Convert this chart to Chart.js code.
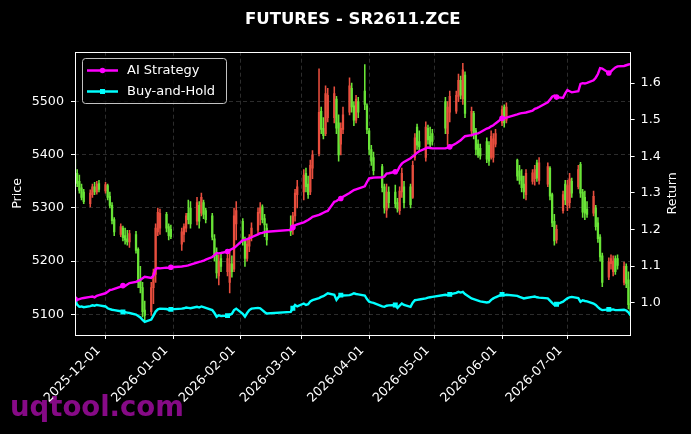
<!DOCTYPE html>
<html><head><meta charset="utf-8">
<script src="https://cdn.jsdelivr.net/npm/chart.js@4/dist/chart.umd.min.js"></script>
<style>
html,body{margin:0;padding:0;background:#000;}
#wrap{position:relative;width:691px;height:434px;}
</style></head><body>
<div id="wrap"><canvas id="c"></canvas></div>
<script>
const dates = [
'2025-11-17','2025-11-18','2025-11-19','2025-11-20','2025-11-21','2025-11-24','2025-11-25','2025-11-26','2025-11-27','2025-11-28',
'2025-12-01','2025-12-02','2025-12-03','2025-12-04','2025-12-05','2025-12-08','2025-12-09','2025-12-10','2025-12-11','2025-12-12',
'2025-12-15','2025-12-16','2025-12-17','2025-12-18','2025-12-19','2025-12-22','2025-12-23','2025-12-24','2025-12-25','2025-12-26',
'2025-12-29','2025-12-30','2025-12-31','2026-01-05','2026-01-06','2026-01-07','2026-01-08','2026-01-09','2026-01-12','2026-01-13',
'2026-01-14','2026-01-15','2026-01-16','2026-01-19','2026-01-20','2026-01-21','2026-01-22','2026-01-23','2026-01-26','2026-01-27',
'2026-01-28','2026-01-29','2026-01-30','2026-02-02','2026-02-03','2026-02-04','2026-02-05','2026-02-06','2026-02-09','2026-02-10',
'2026-02-11','2026-02-12','2026-02-13','2026-02-24','2026-02-25','2026-02-26','2026-02-27','2026-03-02','2026-03-03','2026-03-04',
'2026-03-05','2026-03-06','2026-03-09','2026-03-10','2026-03-11','2026-03-12','2026-03-13','2026-03-16','2026-03-17','2026-03-18',
'2026-03-19','2026-03-20','2026-03-23','2026-03-24','2026-03-25','2026-03-26','2026-03-27','2026-03-30','2026-03-31','2026-04-01',
'2026-04-02','2026-04-03','2026-04-07','2026-04-08','2026-04-09','2026-04-10','2026-04-13','2026-04-14','2026-04-15','2026-04-16',
'2026-04-17','2026-04-20','2026-04-21','2026-04-22','2026-04-23','2026-04-24','2026-04-27','2026-04-28','2026-04-29','2026-04-30',
'2026-05-06','2026-05-07','2026-05-08','2026-05-11','2026-05-12','2026-05-13','2026-05-14','2026-05-15','2026-05-18','2026-05-19',
'2026-05-20','2026-05-21','2026-05-22','2026-05-25','2026-05-26','2026-05-27','2026-05-28','2026-05-29','2026-06-01','2026-06-02',
'2026-06-03','2026-06-08','2026-06-09','2026-06-10','2026-06-11','2026-06-12','2026-06-15','2026-06-16','2026-06-17','2026-06-18',
'2026-06-22','2026-06-23','2026-06-24','2026-06-25','2026-06-26','2026-06-29','2026-06-30','2026-07-01','2026-07-02','2026-07-03',
'2026-07-06','2026-07-07','2026-07-08','2026-07-09','2026-07-10','2026-07-13','2026-07-14','2026-07-15','2026-07-16','2026-07-17',
'2026-07-20','2026-07-21','2026-07-22','2026-07-23','2026-07-24','2026-07-27','2026-07-28','2026-07-29','2026-07-30'];

const open = [5392,5365,5350,5338,5330,5308,5325,5340,5330,5346,
5332,5342,5322,5305,5278,5250,5262,5248,5242,5236,
5250,5222,5165,5150,5108,5105,5150,5175,5255,5262,
5288,5265,5260,5232,5250,5262,5290,5300,5275,5305,
5290,5310,5295,5285,5242,5212,5172,5205,5180,5160,
5195,5185,5270,5275,5240,5205,5228,5245,5258,5290,
5302,5280,5262,5262,5258,5285,5325,5330,5365,5345,
5330,5375,5402,5482,5450,5440,5470,5470,5505,5460,
5420,5448,5480,5525,5492,5465,5500,5520,5492,5445,
5410,5395,5378,5340,5296,5330,5330,5310,5295,5330,
5340,5340,5320,5395,5452,5425,5395,5450,5435,5440,
5500,5440,5480,5482,5510,5540,5505,5550,5445,5478,
5445,5420,5412,5425,5418,5395,5395,5420,5460,5490,
5465,5390,5370,5360,5345,5325,5350,5355,5385,5352,
5345,5375,5325,5275,5240,5295,5345,5305,5310,5350,
5340,5382,5330,5320,5298,5290,5300,5272,5245,5210,
5170,5195,5180,5205,5205,5160,5190,5165,5120];

const high = [5398,5372,5362,5345,5335,5334,5345,5348,5350,5352,
5348,5345,5330,5310,5282,5270,5266,5262,5258,5258,
5256,5225,5190,5160,5125,5160,5185,5270,5300,5298,
5292,5270,5268,5262,5270,5290,5315,5312,5320,5312,
5328,5315,5300,5290,5250,5225,5212,5215,5215,5220,
5210,5300,5312,5280,5245,5240,5250,5272,5300,5310,
5306,5288,5270,5285,5292,5335,5352,5372,5375,5360,
5390,5408,5562,5490,5470,5530,5525,5528,5510,5475,
5460,5490,5545,5535,5500,5512,5508,5570,5496,5450,
5418,5405,5382,5345,5345,5340,5343,5318,5340,5375,
5350,5345,5388,5440,5458,5445,5462,5456,5452,5448,
5508,5500,5520,5520,5552,5548,5572,5556,5490,5482,
5450,5428,5420,5432,5425,5445,5440,5448,5492,5494,
5498,5392,5380,5372,5360,5372,5372,5380,5390,5395,
5385,5378,5328,5288,5268,5332,5352,5352,5365,5356,
5380,5386,5335,5332,5312,5332,5305,5282,5250,5215,
5206,5212,5210,5210,5212,5198,5195,5180,5150];

const low = [5355,5340,5328,5315,5308,5302,5320,5325,5326,5330,
5328,5315,5300,5270,5248,5246,5238,5232,5230,5226,
5215,5150,5140,5095,5088,5098,5120,5160,5248,5250,
5255,5240,5242,5220,5236,5255,5270,5262,5268,5262,
5285,5280,5272,5240,5200,5168,5155,5180,5172,5140,
5170,5180,5240,5230,5190,5200,5218,5238,5250,5268,
5272,5246,5230,5248,5250,5275,5300,5315,5330,5318,
5325,5355,5398,5440,5430,5436,5462,5460,5440,5388,
5400,5440,5475,5480,5455,5460,5470,5485,5440,5400,
5380,5362,5330,5290,5282,5300,5300,5292,5288,5320,
5300,5300,5318,5390,5410,5408,5388,5420,5412,5418,
5440,5418,5462,5478,5500,5505,5495,5470,5435,5430,
5400,5395,5392,5385,5380,5392,5386,5415,5455,5452,
5460,5352,5345,5330,5318,5315,5345,5343,5350,5345,
5340,5315,5265,5230,5234,5290,5306,5295,5300,5320,
5336,5320,5282,5278,5282,5285,5258,5235,5200,5152,
5165,5185,5172,5175,5185,5155,5150,5110,5092];

const close = [5362,5346,5333,5320,5312,5328,5340,5330,5345,5335,
5344,5320,5305,5276,5255,5265,5244,5240,5236,5252,
5220,5160,5150,5105,5098,5150,5178,5262,5292,5290,
5262,5248,5246,5255,5265,5285,5278,5270,5310,5275,
5320,5288,5278,5245,5210,5178,5200,5190,5205,5195,
5180,5285,5295,5238,5205,5232,5245,5262,5292,5300,
5278,5268,5240,5255,5285,5328,5340,5362,5340,5325,
5380,5400,5480,5448,5436,5515,5512,5515,5450,5400,
5450,5475,5530,5490,5465,5505,5480,5495,5448,5410,
5388,5370,5338,5300,5330,5310,5308,5298,5332,5365,
5310,5306,5380,5432,5418,5415,5452,5428,5420,5425,
5450,5490,5510,5512,5540,5512,5560,5478,5482,5440,
5410,5400,5398,5392,5388,5435,5430,5440,5485,5460,
5490,5360,5352,5338,5330,5365,5366,5372,5356,5385,
5378,5322,5272,5238,5260,5325,5315,5342,5355,5328,
5372,5328,5292,5290,5288,5322,5265,5242,5208,5160,
5198,5205,5200,5180,5192,5190,5158,5118,5098];

const aiStrategy = [1.010,1.008,1.010,1.012,1.013,1.016,1.017,1.015,1.019,1.021,
1.026,1.030,1.035,1.036,1.038,1.044,1.047,1.046,1.050,1.054,
1.057,1.060,1.063,1.067,1.071,1.068,1.074,1.092,1.095,1.094,
1.096,1.095,1.097,1.099,1.100,1.101,1.102,1.104,1.110,1.112,
1.113,1.115,1.118,1.125,1.130,1.136,1.135,1.136,1.140,1.144,
1.147,1.150,1.155,1.171,1.172,1.174,1.176,1.179,1.187,1.190,
1.191,1.193,1.194,1.199,1.206,1.212,1.214,1.220,1.223,1.226,
1.230,1.235,1.240,1.243,1.246,1.249,1.251,1.276,1.278,1.282,
1.285,1.290,1.300,1.304,1.308,1.310,1.312,1.318,1.330,1.340,
1.341,1.342,1.343,1.345,1.353,1.354,1.358,1.360,1.372,1.380,
1.385,1.395,1.400,1.404,1.410,1.414,1.422,1.424,1.423,1.422,
1.422,1.424,1.426,1.436,1.440,1.444,1.450,1.455,1.458,1.460,
1.462,1.463,1.466,1.476,1.478,1.482,1.485,1.490,1.504,1.505,
1.506,1.515,1.517,1.518,1.519,1.520,1.525,1.530,1.532,1.535,
1.548,1.555,1.563,1.566,1.562,1.560,1.572,1.581,1.578,1.575,
1.578,1.598,1.600,1.599,1.601,1.608,1.615,1.625,1.641,1.640,
1.628,1.632,1.638,1.643,1.646,1.647,1.649,1.651,1.652];

const buyHold = [1.003,0.995,0.989,0.990,0.988,0.991,0.993,0.992,0.994,0.993,
0.990,0.985,0.983,0.981,0.980,0.977,0.975,0.974,0.973,0.972,
0.968,0.964,0.960,0.953,0.948,0.954,0.965,0.976,0.982,0.984,
0.983,0.981,0.982,0.984,0.985,0.987,0.986,0.985,0.989,0.987,
0.990,0.988,0.986,0.980,0.972,0.962,0.966,0.964,0.965,0.967,
0.970,0.980,0.984,0.970,0.962,0.972,0.980,0.984,0.986,0.985,
0.980,0.975,0.971,0.975,0.985,0.994,0.990,0.998,0.994,0.996,
1.004,1.007,1.013,1.016,1.018,1.022,1.026,1.022,1.008,1.016,
1.021,1.020,1.021,1.023,1.026,1.024,1.023,1.020,1.010,1.003,
1.001,1.000,0.990,0.989,0.992,0.993,0.994,0.986,0.992,0.998,
0.994,0.989,1.000,1.007,1.008,1.009,1.012,1.014,1.015,1.016,
1.022,1.021,1.023,1.027,1.030,1.028,1.030,1.024,1.012,1.010,
1.008,1.006,1.004,1.001,1.002,1.008,1.012,1.015,1.023,1.021,
1.022,1.019,1.016,1.014,1.012,1.013,1.016,1.017,1.015,1.014,
1.012,1.006,1.000,0.994,0.996,1.003,1.008,1.012,1.015,1.016,
1.013,1.003,1.007,1.005,1.004,0.998,0.994,0.988,0.983,0.980,
0.982,0.981,0.982,0.980,0.980,0.981,0.979,0.974,0.966];

const priceTicks = [5100, 5200, 5300, 5400, 5500];
const returnTicks = [1.0, 1.1, 1.2, 1.3, 1.4, 1.5, 1.6];
const dateTicks = ['2025-12-01','2026-01-01','2026-02-01','2026-03-01','2026-04-01','2026-05-01','2026-06-01','2026-07-01'];

const BASE = Date.UTC(2025, 11, 1);
function dayNum(s){ const p = s.split('-').map(Number); return (Date.UTC(p[0], p[1]-1, p[2]) - BASE) / 86400000; }
const xs = dates.map(dayNum);
const UP = 'rgb(232,78,62)', DOWN = 'rgb(105,228,55)';
const candleColors = open.map((o, i) => close[i] >= o ? UP : DOWN);
const FONT = "'DejaVu Sans', sans-serif";
const MARK_EVERY = 16;

const decor = {
  id: 'decor',
  beforeDraw(chart) {
    const ctx = chart.ctx;
    ctx.save();
    ctx.font = 'bold 27.5px ' + FONT;
    ctx.fillStyle = '#860a86';
    ctx.textBaseline = 'alphabetic';
    ctx.textAlign = 'left';
    ctx.fillText('uqtool.com', 10, 416);
    ctx.restore();
  },
  afterDraw(chart) {
    const ctx = chart.ctx;
    const a = chart.chartArea;
    ctx.save();
    ctx.strokeStyle = '#ffffff';
    ctx.lineWidth = 1;
    ctx.strokeRect(Math.round(a.left) + 0.5, Math.round(a.top) + 0.5, Math.round(a.right - a.left) - 1, Math.round(a.bottom - a.top));
    ctx.save();
    ctx.translate(673, (a.top + a.bottom) / 2);
    ctx.rotate(-Math.PI / 2);
    ctx.font = '12.7px ' + FONT;
    ctx.fillStyle = '#ffffff';
    ctx.textAlign = 'center';
    ctx.textBaseline = 'middle';
    ctx.fillText('Return', 0, 0);
    ctx.restore();
    const bx = 82.5, by = 58.5, bw = 144, bh = 45;
    ctx.beginPath();
    if (ctx.roundRect) ctx.roundRect(bx, by, bw, bh, 3); else ctx.rect(bx, by, bw, bh);
    ctx.fillStyle = 'rgba(0,0,0,0.8)';
    ctx.fill();
    ctx.strokeStyle = 'rgba(215,215,215,0.9)';
    ctx.lineWidth = 1;
    ctx.stroke();
    const items = chart.data.datasets.filter(d => d.type === 'line');
    items.forEach((ds, k) => {
      const y = 70.5 + k * 21;
      ctx.strokeStyle = ds.borderColor;
      ctx.lineWidth = 2.5;
      ctx.beginPath(); ctx.moveTo(87, y); ctx.lineTo(118, y); ctx.stroke();
      ctx.fillStyle = ds.borderColor;
      if (ds.pointStyle === 'rect') { ctx.fillRect(100, y - 2.5, 5, 5); }
      else { ctx.beginPath(); ctx.arc(102.5, y, 2.8, 0, Math.PI * 2); ctx.fill(); }
      ctx.fillStyle = '#ffffff';
      ctx.font = '13px ' + FONT;
      ctx.textAlign = 'left';
      ctx.textBaseline = 'middle';
      ctx.fillText(ds.label, 127, y + 0.5);
    });
    ctx.restore();
  }
};

const gridCol = 'rgba(255,255,255,0.25)';
new Chart(document.getElementById('c'), {
  type: 'bar',
  data: {
    datasets: [
      {
        type: 'line', label: 'AI Strategy', yAxisID: 'y1', xAxisID: 'x', order: 0,
        data: xs.map((x, i) => ({x: x, y: aiStrategy[i]})),
        borderColor: '#ff00ff', backgroundColor: '#ff00ff', borderWidth: 2.4,
        pointStyle: 'circle', pointRadius: c => c.dataIndex % MARK_EVERY === 0 ? 2.8 : 0,
        pointBorderWidth: 0, pointBackgroundColor: '#ff00ff', tension: 0
      },
      {
        type: 'line', label: 'Buy-and-Hold', yAxisID: 'y1', xAxisID: 'x', order: 0,
        data: xs.map((x, i) => ({x: x, y: buyHold[i]})),
        borderColor: '#00ffff', backgroundColor: '#00ffff', borderWidth: 2.4,
        pointStyle: 'rect', pointRadius: c => c.dataIndex % MARK_EVERY === 0 ? 3.5 : 0,
        pointBorderWidth: 0, pointBackgroundColor: '#00ffff', tension: 0
      },
      {
        label: 'wick', yAxisID: 'y', xAxisID: 'x', order: 2, grouped: false,
        data: xs.map((x, i) => ({x: x, y: [low[i], high[i]]})),
        backgroundColor: candleColors, barThickness: 0.9, borderWidth: 0
      },
      {
        label: 'body', yAxisID: 'y', xAxisID: 'x', order: 1, grouped: false,
        data: xs.map((x, i) => ({x: x, y: [open[i], close[i]]})),
        backgroundColor: candleColors, barThickness: 1.6, borderWidth: 0
      }
    ]
  },
  options: {
    responsive: true, maintainAspectRatio: false, animation: false,
    layout: { padding: 0 },
    plugins: {
      legend: { display: false },
      tooltip: { enabled: false },
      title: {
        display: true, text: 'FUTURES - SR2611.ZCE', color: '#ffffff', fullSize: false,
        font: { family: FONT, size: 16.5, weight: 'bold' },
        padding: { top: 10, bottom: 21.9 }
      }
    },
    scales: {
      x: {
        type: 'linear', position: 'bottom', offset: false,
        min: xs[0], max: xs[xs.length - 1],
        afterBuildTicks: s => { s.ticks = dateTicks.map(d => ({value: dayNum(d)})); },
        afterFit: s => { s.height = 99; },
        ticks: {
          color: '#ffffff', font: { family: FONT, size: 12.7 }, autoSkip: false,
          maxRotation: 45, minRotation: 45, padding: 4, labelOffset: -7,
          callback: (v, i) => dateTicks[i]
        },
        grid: { color: gridCol, lineWidth: 0.7, offset: false, tickColor: '#ffffff', tickLength: 4, tickWidth: 1 },
        border: { display: false, dash: [4, 3] }
      },
      y: {
        type: 'linear', position: 'left', min: 5061, max: 5594, beginAtZero: false, stacked: false,
        afterBuildTicks: s => { s.ticks = priceTicks.map(v => ({value: v})); },
        afterFit: s => { s.width = 75; },
        ticks: { color: '#ffffff', font: { family: FONT, size: 12.7 }, padding: 7, callback: v => String(v) },
        grid: { color: gridCol, lineWidth: 0.7, tickColor: '#ffffff', tickLength: 4, tickWidth: 1 },
        border: { display: false, dash: [4, 3] },
        title: { display: true, text: 'Price', color: '#ffffff', font: { family: FONT, size: 12.7 }, padding: { top: 10, bottom: 0 } }
      },
      y1: {
        type: 'linear', position: 'right', min: 0.912, max: 1.686, beginAtZero: false,
        afterBuildTicks: s => { s.ticks = returnTicks.map(v => ({value: v})); },
        afterFit: s => { s.width = 60.4; },
        ticks: { color: '#ffffff', font: { family: FONT, size: 12.7 }, padding: 6, callback: v => Number(v).toFixed(1) },
        grid: { drawOnChartArea: false, color: gridCol, tickColor: '#ffffff', tickLength: 4, tickWidth: 1 },
        border: { display: false }
      }
    }
  },
  plugins: [decor]
});
</script>
</body></html>
